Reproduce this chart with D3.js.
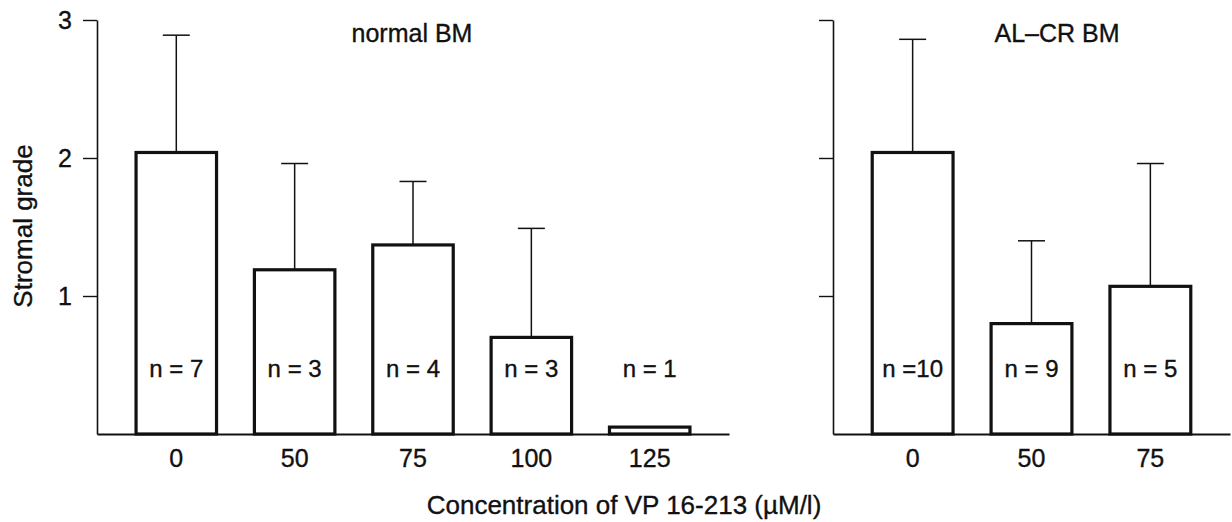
<!DOCTYPE html>
<html>
<head>
<meta charset="utf-8">
<script src="https://cdn.jsdelivr.net/npm/d3@7"></script>
<style>
  body { margin: 0; background: #fff; }
  svg { display: block; font-family: "Liberation Sans", Arial, Helvetica, sans-serif; }
  text { fill: #111; stroke: #111; stroke-width: 0.35px; }
</style>
</head>
<body>
<div id="chart"></div>
<script>
(function () {
  // normal bone marrow
  let normalConc = ['0', '50', '75', '100', '125'];
  let normalMean = [2.04, 1.19, 1.37, 0.70, 0.05];
  let normalSd = [0.85, 0.77, 0.46, 0.79, 0];
  let normalN = ['n = 7', 'n = 3', 'n = 4', 'n = 3', 'n = 1'];

  // AL-CR bone marrow
  let alcrConc = ['0', '50', '75'];
  let alcrMean = [2.04, 0.80, 1.07];
  let alcrSd = [0.82, 0.60, 0.89];
  let alcrN = ['n =10', 'n = 9', 'n = 5'];

  let yTicks = [1, 2, 3];

  let width = 1232;
  let height = 522;
  let fontSize = 25;

  let svg = d3
    .select('#chart')
    .append('svg')
    .attr('width', width)
    .attr('height', height);

  let yscale = d3.scaleLinear().domain([0, 3]).range([434, 20]);

  function panel(opts) {
    let data = opts.conc.map((c, i) => ({
      conc: c,
      mean: opts.mean[i],
      sd: opts.sd[i],
      n: opts.n[i]
    }));

    let xscale = d3
      .scaleBand()
      .domain(opts.conc)
      .range([opts.x0, opts.x1])
      .paddingInner(0.32)
      .paddingOuter(0.33);

    let g = svg.append('g');

    // y axis
    let yAxis = d3
      .axisLeft(yscale)
      .tickValues(yTicks)
      .tickSize(14)
      .tickSizeOuter(0)
      .tickPadding(11)
      .tickFormat(opts.showLabels ? d3.format('d') : '');

    let ya = g
      .append('g')
      .attr('transform', `translate(${opts.x0}, 0)`)
      .call(yAxis);
    ya.select('.domain').attr('stroke', '#111').attr('stroke-width', 1.6);
    ya.selectAll('.tick line').attr('stroke', '#111').attr('stroke-width', 1.4);
    ya.selectAll('.tick text')
      .attr('font-size', fontSize)
      .attr('font-family', null)
      .attr('fill', '#111');

    // error bars
    let err = g.append('g').attr('stroke', '#111').attr('stroke-width', 1.5);
    data
      .filter((d) => d.sd > 0)
      .forEach((d) => {
        let cx = xscale(d.conc) + xscale.bandwidth() / 2;
        err
          .append('line')
          .attr('x1', cx)
          .attr('x2', cx)
          .attr('y1', yscale(d.mean))
          .attr('y2', yscale(d.mean + d.sd));
        err
          .append('line')
          .attr('x1', cx - 13.5)
          .attr('x2', cx + 13.5)
          .attr('y1', yscale(d.mean + d.sd))
          .attr('y2', yscale(d.mean + d.sd));
      });

    // bars
    g.append('g')
      .selectAll('rect')
      .data(data)
      .enter()
      .append('rect')
      .attr('x', (d) => xscale(d.conc))
      .attr('y', (d) => yscale(d.mean))
      .attr('width', xscale.bandwidth())
      .attr('height', (d) => yscale(0) - yscale(d.mean))
      .attr('fill', '#fff')
      .attr('stroke', '#111')
      .attr('stroke-width', 3.2);

    // n labels
    g.append('g')
      .selectAll('text')
      .data(data)
      .enter()
      .append('text')
      .attr('x', (d) => xscale(d.conc) + xscale.bandwidth() / 2)
      .attr('y', 377)
      .attr('text-anchor', 'middle')
      .attr('font-size', fontSize - 1)
      .text((d) => d.n);

    // x axis (baseline + labels)
    let xa = g
      .append('g')
      .attr('transform', `translate(0, ${yscale(0)})`)
      .call(d3.axisBottom(xscale).tickSize(0).tickSizeOuter(0).tickPadding(15));
    xa.select('.domain').attr('stroke', '#111').attr('stroke-width', 2);
    xa.selectAll('.tick text')
      .attr('font-size', fontSize)
      .attr('font-family', null)
      .attr('fill', '#111');

    // panel title
    g.append('text')
      .attr('x', opts.titleX)
      .attr('y', 42)
      .attr('text-anchor', 'middle')
      .attr('font-size', fontSize)
      .text(opts.title);
  }

  panel({
    conc: normalConc,
    mean: normalMean,
    sd: normalSd,
    n: normalN,
    x0: 97,
    x1: 729,
    showLabels: true,
    title: 'normal BM',
    titleX: 412
  });

  panel({
    conc: alcrConc,
    mean: alcrMean,
    sd: alcrSd,
    n: alcrN,
    x0: 833,
    x1: 1230,
    showLabels: false,
    title: 'AL\u2013CR BM',
    titleX: 1057
  });

  // axis titles
  svg
    .append('text')
    .attr('transform', 'translate(32, 226) rotate(-90)')
    .attr('text-anchor', 'middle')
    .attr('font-size', 26)
    .text('Stromal grade');

  svg
    .append('text')
    .attr('x', 624)
    .attr('y', 514)
    .attr('text-anchor', 'middle')
    .attr('font-size', 26)
    .text('Concentration of VP 16-213 (\u00b5M/l)');
})();
</script>
</body>
</html>
